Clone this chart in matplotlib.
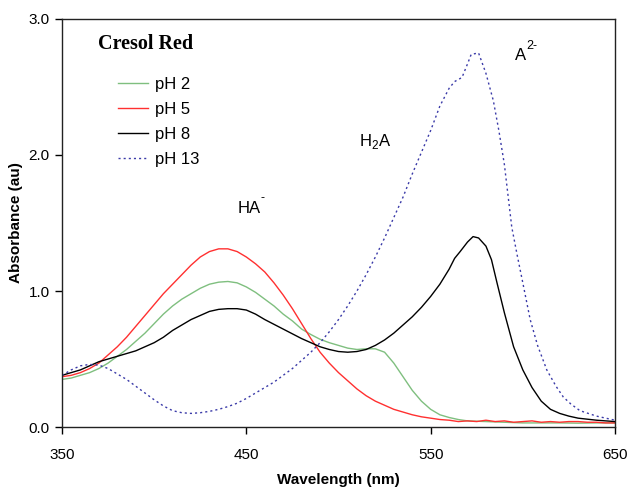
import matplotlib
matplotlib.use("Agg")
import matplotlib.pyplot as plt

# ---- data ----
wl_ph2 = [350, 355, 360, 365, 370, 375, 380, 385, 390, 395, 400, 405, 410, 415, 420, 425,
          430, 435, 440, 445, 450, 455, 460, 465, 470, 475, 480, 485, 490, 495, 500, 505,
          510, 515, 520, 525, 530, 535, 540, 545, 550, 555, 560, 565, 570, 580, 590,
          600, 610, 620, 630, 640, 650]
abs_ph2 = [0.35, 0.36, 0.38, 0.40, 0.43, 0.47, 0.52, 0.57, 0.63, 0.69, 0.76, 0.83, 0.89, 0.94, 0.98, 1.02,
           1.05, 1.065, 1.07, 1.06, 1.03, 0.99, 0.94, 0.89, 0.83, 0.78, 0.72, 0.68, 0.645, 0.62, 0.60, 0.58,
           0.57, 0.575, 0.575, 0.55, 0.47, 0.37, 0.27, 0.19, 0.13, 0.09, 0.07, 0.055, 0.045, 0.04, 0.035,
           0.03, 0.03, 0.03, 0.028, 0.03, 0.03]

wl_ph5 = [350, 355, 360, 365, 370, 375, 380, 385, 390, 395, 400, 405, 410, 415, 420, 425,
          430, 435, 440, 445, 450, 455, 460, 465, 470, 475, 480, 485, 490, 495, 500, 505,
          510, 515, 520, 525, 530, 535, 540, 545, 550, 555, 560, 565, 570, 575, 580, 585, 590, 595,
          600, 605, 610, 615, 620, 625, 630, 635, 640, 645, 650]
abs_ph5 = [0.37, 0.38, 0.40, 0.43, 0.47, 0.53, 0.59, 0.66, 0.74, 0.82, 0.90, 0.98, 1.05, 1.12, 1.19, 1.25,
           1.29, 1.31, 1.31, 1.29, 1.25, 1.20, 1.14, 1.06, 0.97, 0.87, 0.76, 0.65, 0.55, 0.47, 0.40, 0.34,
           0.28, 0.23, 0.19, 0.16, 0.13, 0.11, 0.09, 0.075, 0.065, 0.055, 0.05, 0.04, 0.045, 0.04, 0.05, 0.04, 0.045, 0.035,
           0.04, 0.045, 0.035, 0.04, 0.035, 0.04, 0.04, 0.035, 0.035, 0.03, 0.03]

wl_ph8 = [350, 355, 360, 365, 370, 375, 380, 385, 390, 395, 400, 405, 410, 415, 420, 425,
          430, 435, 440, 445, 450, 455, 460, 465, 470, 475, 480, 485, 490, 495, 500, 505,
          510, 515, 520, 525, 530, 535, 540, 545, 550, 555, 560, 563, 566, 570, 573, 576,
          580, 583, 586, 590, 595, 600, 605, 610, 615, 620, 625, 630, 640, 650]
abs_ph8 = [0.38, 0.40, 0.42, 0.45, 0.48, 0.50, 0.52, 0.54, 0.56, 0.59, 0.62, 0.66, 0.71, 0.75, 0.79, 0.82,
           0.85, 0.865, 0.87, 0.87, 0.86, 0.83, 0.79, 0.755, 0.72, 0.685, 0.65, 0.62, 0.59, 0.57, 0.555, 0.55,
           0.555, 0.57, 0.60, 0.64, 0.69, 0.75, 0.81, 0.88, 0.96, 1.05, 1.16, 1.24, 1.29, 1.36, 1.40, 1.39,
           1.33, 1.23, 1.06, 0.84, 0.59, 0.42, 0.29, 0.19, 0.13, 0.10, 0.08, 0.065, 0.05, 0.04]

wl_ph13 = [350, 355, 360, 365, 370, 375, 380, 385, 390, 395, 400, 405, 410, 415, 420, 425,
           430, 435, 440, 445, 450, 455, 460, 465, 470, 475, 480, 485, 490, 495, 500, 505,
           510, 515, 520, 525, 530, 535, 540, 545, 550, 555, 560, 563, 567, 570, 572, 576,
           580, 584, 587, 590, 592, 594, 597, 600, 604, 608, 613, 618, 622, 626, 631, 640, 650]
abs_ph13 = [0.38, 0.42, 0.45, 0.46, 0.455, 0.43, 0.39, 0.35, 0.30, 0.25, 0.20, 0.155, 0.12, 0.105, 0.10, 0.105,
            0.115, 0.13, 0.15, 0.175, 0.21, 0.25, 0.29, 0.33, 0.38, 0.43, 0.49, 0.55, 0.62, 0.70, 0.79, 0.89,
            1.00, 1.12, 1.25, 1.39, 1.54, 1.69, 1.86, 2.02, 2.18, 2.36, 2.49, 2.54, 2.57, 2.67, 2.74, 2.75,
            2.60, 2.40, 2.18, 1.93, 1.70, 1.47, 1.26, 1.06, 0.79, 0.60, 0.42, 0.30, 0.22, 0.17, 0.12, 0.08, 0.05]

series_labels = ["pH 2", "pH 5", "pH 8", "pH 13"]
x_ticks = [350, 450, 550, 650]
y_ticks = [0.0, 1.0, 2.0, 3.0]

plt.rcParams['font.family'] = ['Liberation Sans', 'DejaVu Sans']

fig = plt.figure(figsize=(6.29, 4.92), dpi=100)
ax = fig.add_axes([0.0986, 0.1321, 0.8791, 0.8293])

ax.plot(wl_ph2, abs_ph2, color="#7fbf7f", lw=1.0, label=series_labels[0])
ax.plot(wl_ph5, abs_ph5, color="#ff3030", lw=1.0, label=series_labels[1])
ax.plot(wl_ph8, abs_ph8, color="black", lw=1.0, label=series_labels[2])
ax.plot(wl_ph13, abs_ph13, color="#3a3aa8", lw=1.0, ls=(0, (1.5, 2.2)), label=series_labels[3])

ax.set_xlim(350, 650)
ax.set_ylim(0, 3.0)
ax.set_xticks(x_ticks)
ax.set_xticklabels([str(t) for t in x_ticks])
ax.set_yticks(y_ticks)
ax.set_yticklabels([f"{t:.1f}" for t in y_ticks])
ax.tick_params(direction="out", length=5, width=1, labelsize=11, pad=4)
ax.tick_params(axis="x", pad=10)
for s in ax.spines.values():
    s.set_linewidth(1.0)
    s.set_color("#222222")

ax.set_xlabel("Wavelength (nm)", fontsize=11, fontweight="bold", labelpad=8)
ax.set_ylabel("Absorbance (au)", fontsize=11, fontweight="bold", labelpad=4)

leg = ax.legend(loc="upper left", bbox_to_anchor=(0.101, 0.858), frameon=False,
                fontsize=12, handlelength=1.8, handletextpad=0.4, labelspacing=0.6,
                borderaxespad=0, borderpad=0)

fig.text(98/629, 1 - 44/492, "Cresol Red", family="Liberation Serif", fontweight="bold",
         fontsize=14.5, va="center", ha="left")

# species annotations (main text + small superscript / subscript)
ax.text(451.5, 1.61, "HA", fontsize=12, ha="center", va="center")
ax.annotate("-", xy=(451.5, 1.61), xytext=(8.5, 2.5), textcoords="offset points",
            fontsize=9, ha="left", va="bottom")
ax.text(520, 2.10, "H$_{\\mathregular{2}}$A", fontsize=12, ha="center", va="center")
ax.text(598.5, 2.735, "A", fontsize=12, ha="center", va="center")
ax.annotate("2-", xy=(598.5, 2.735), xytext=(4.5, 2.5), textcoords="offset points",
            fontsize=9, ha="left", va="bottom")

fig.savefig("out.png", dpi=100)
